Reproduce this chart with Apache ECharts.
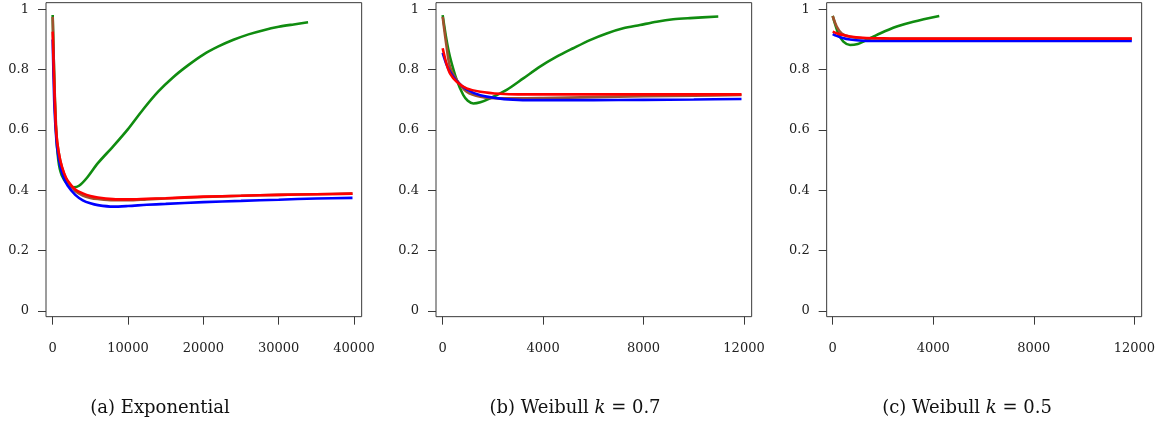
<!DOCTYPE html>
<html>
<head>
<meta charset="utf-8">
<script src="https://cdn.jsdelivr.net/npm/echarts@6/dist/echarts.min.js"></script>
<style>html,body{margin:0;padding:0;background:#fff}#c{width:1164px;height:430px}</style>
</head>
<body>
<div id="c"></div>
<script>
// ---------- data ----------
const yTicks = [0, 0.2, 0.4, 0.6, 0.8, 1];
const xTicksA = [0, 10000, 20000, 30000, 40000];
const xTicksBC = [0, 4000, 8000, 12000];
const captions = ['(a) Exponential', '(b) Weibull ', '(c) Weibull '];
const kValues = ['', '0.7', '0.5'];

// Panel (a) Exponential
const aGreenX = [0, 200, 400, 750, 1200, 2000, 2800, 3500, 4500, 6000, 8000, 10000, 12000, 14000, 16000, 18000, 20000, 22000, 24000, 26000, 28000, 30000, 32000, 33900];
const aGreenY = [0.981, 0.78, 0.62, 0.50, 0.45, 0.42, 0.41, 0.415, 0.44, 0.49, 0.545, 0.603, 0.668, 0.727, 0.775, 0.815, 0.850, 0.877, 0.899, 0.917, 0.931, 0.942, 0.950, 0.957];
const aX = [0, 200, 400, 600, 1000, 1500, 2000, 3000, 4000, 5000, 6000, 8000, 10000, 12500, 15000, 20000, 25000, 30000, 35000, 39800];
const aBrown = [0.975, 0.78, 0.64, 0.56, 0.50, 0.455, 0.428, 0.398, 0.383, 0.375, 0.371, 0.367, 0.367, 0.370, 0.373, 0.378, 0.382, 0.385, 0.387, 0.389];
const aBlue = [0.90, 0.70, 0.60, 0.54, 0.48, 0.44, 0.415, 0.385, 0.367, 0.357, 0.351, 0.346, 0.348, 0.352, 0.355, 0.361, 0.365, 0.369, 0.373, 0.375];
const aRed = [0.926, 0.75, 0.62, 0.56, 0.50, 0.458, 0.432, 0.403, 0.390, 0.381, 0.376, 0.371, 0.370, 0.372, 0.374, 0.379, 0.382, 0.385, 0.387, 0.389];

// Panel (b) Weibull k = 0.7
const bGreenX = [0, 150, 290, 560, 820, 1000, 1220, 1500, 1885, 2550, 3210, 3875, 4540, 5200, 5865, 6530, 7190, 7860, 8520, 9180, 9850, 10975];
const bGreenY = [0.981, 0.90, 0.843, 0.766, 0.716, 0.697, 0.688, 0.692, 0.705, 0.733, 0.771, 0.81, 0.843, 0.871, 0.898, 0.92, 0.937, 0.948, 0.959, 0.967, 0.971, 0.976];
const bX = [0, 150, 290, 560, 955, 1500, 2300, 3000, 4000, 6000, 8000, 10000, 11900];
const bBrown = [0.975, 0.88, 0.81, 0.766, 0.727, 0.710, 0.705, 0.705, 0.706, 0.709, 0.712, 0.714, 0.716];
const bBlue = [0.856, 0.818, 0.793, 0.762, 0.735, 0.715, 0.704, 0.700, 0.699, 0.699, 0.700, 0.701, 0.703];
const bRed = [0.871, 0.82, 0.788, 0.760, 0.738, 0.727, 0.720, 0.718, 0.718, 0.718, 0.718, 0.718, 0.718];

// Panel (c) Weibull k = 0.5
const cGreenX = [0, 100, 225, 425, 690, 1000, 1220, 1880, 2550, 3210, 4240];
const cGreenY = [0.978, 0.95, 0.92, 0.893, 0.882, 0.885, 0.893, 0.92, 0.943, 0.959, 0.978];
const cX = [0, 160, 360, 690, 1200, 2000, 3000, 6000, 9000, 11900];
const cBrown = [0.978, 0.943, 0.92, 0.909, 0.904, 0.903, 0.902, 0.902, 0.902, 0.902];
const cBlue = [0.918, 0.912, 0.906, 0.900, 0.896, 0.895, 0.895, 0.895, 0.895, 0.895];
const cRed = [0.926, 0.921, 0.916, 0.910, 0.906, 0.904, 0.903, 0.903, 0.903, 0.903];

// ---------- styles ----------
const COLORS = { green: '#108c10', brown: '#a0522d', blue: '#0000ff', red: '#ff0000' };
const FONT = 'DejaVu Serif';
const AXC = '#3a3a3a';

const pair = (xs, ys) => xs.map((x, i) => [x, ys[i]]);

const grids = [
  { left: 46, top: 2.67, width: 315.67, height: 314 },
  { left: 436, top: 2.67, width: 315.67, height: 314 },
  { left: 826.67, top: 2.67, width: 315, height: 314 }
].map(g => Object.assign(g, { show: true, borderColor: AXC, borderWidth: 1, backgroundColor: 'transparent' }));

const xRanges = [[-885, 41018], [-265.5, 12305], [-239, 12292]];
const xTickSets = [xTicksA, xTicksBC, xTicksBC];

const xAxes = xRanges.map((r, i) => ({
  type: 'value', gridIndex: i, min: r[0], max: r[1], position: 'bottom',
  axisLine: { show: false, onZero: false },
  splitLine: { show: false },
  axisTick: { show: true, length: 8, customValues: xTickSets[i], lineStyle: { color: AXC, width: 1 } },
  axisLabel: { customValues: xTickSets[i], formatter: v => String(v), margin: 25, fontFamily: FONT, fontSize: 13, color: '#222' }
}));

const yAxes = [0, 1, 2].map(i => ({
  type: 'value', gridIndex: i, min: -0.0188, max: 1.0221, position: 'left',
  axisLine: { show: false, onZero: false },
  splitLine: { show: false },
  axisTick: { show: true, length: 8, customValues: yTicks, lineStyle: { color: AXC, width: 1 } },
  axisLabel: { customValues: yTicks, formatter: v => String(v), margin: 17, align: 'right', fontFamily: FONT, fontSize: 13, color: '#222' }
}));

function mk(idx, data, color) {
  return {
    type: 'line', xAxisIndex: idx, yAxisIndex: idx, data: data,
    showSymbol: false, smooth: 0.3,
    lineStyle: { color: color, width: 2.6 }, itemStyle: { color: color },
    animation: false, silent: true
  };
}

const series = [
  mk(0, pair(aGreenX, aGreenY), COLORS.green),
  mk(0, pair(aX, aBrown), COLORS.brown),
  mk(0, pair(aX, aBlue), COLORS.blue),
  mk(0, pair(aX, aRed), COLORS.red),
  mk(1, pair(bGreenX, bGreenY), COLORS.green),
  mk(1, pair(bX, bBrown), COLORS.brown),
  mk(1, pair(bX, bBlue), COLORS.blue),
  mk(1, pair(bX, bRed), COLORS.red),
  mk(2, pair(cGreenX, cGreenY), COLORS.green),
  mk(2, pair(cX, cBrown), COLORS.brown),
  mk(2, pair(cX, cBlue), COLORS.blue),
  mk(2, pair(cX, cRed), COLORS.red)
];

const capX = [160, 575, 967];
const graphic = captions.map((c, i) => ({
  type: 'text', x: capX[i], y: 408,
  style: {
    text: i === 0 ? '{n|' + c + '}' : '{n|' + c + '}{i|k}{n| = ' + kValues[i] + '}',
    align: 'center', verticalAlign: 'middle',
    rich: {
      n: { fontFamily: FONT, fontSize: 18, fill: '#111' },
      i: { fontFamily: FONT, fontSize: 18, fontStyle: 'italic', fill: '#111' }
    }
  }
}));

const chart = echarts.init(document.getElementById('c'), null, { renderer: 'canvas' });
chart.setOption({
  animation: false,
  grid: grids, xAxis: xAxes, yAxis: yAxes, series: series, graphic: graphic
});
</script>
</body>
</html>
